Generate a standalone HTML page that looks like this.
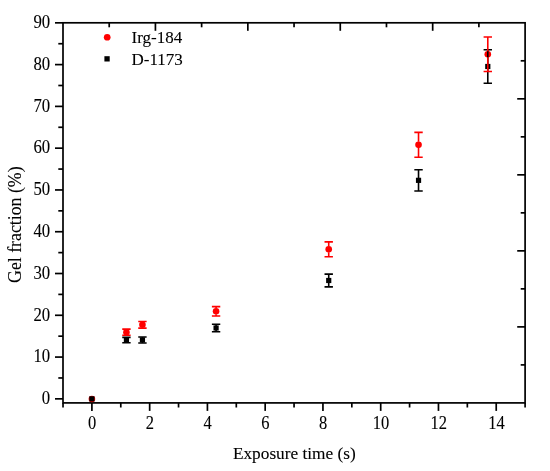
<!DOCTYPE html>
<html><head><meta charset="utf-8"><title>Gel fraction</title>
<style>html,body{margin:0;padding:0;background:#fff}svg{display:block}text{font-family:"Liberation Serif","Times New Roman",serif;font-size:17px;fill:#000;stroke:#000;stroke-width:0.1px}</style></head><body>
<svg width="550" height="471" viewBox="0 0 550 471">
<rect width="550" height="471" fill="#fff"/>
<g stroke="#000" stroke-width="1.7" fill="none" stroke-linecap="butt">
<rect x="63.0" y="22.8" width="462.10" height="380.10"/>
<path d="M55.00 398.85H63.0"/>
<path d="M58.30 377.96H63.0"/>
<path d="M55.00 357.07H63.0"/>
<path d="M58.30 336.18H63.0"/>
<path d="M55.00 315.29H63.0"/>
<path d="M58.30 294.40H63.0"/>
<path d="M55.00 273.51H63.0"/>
<path d="M58.30 252.62H63.0"/>
<path d="M55.00 231.73H63.0"/>
<path d="M58.30 210.84H63.0"/>
<path d="M55.00 189.95H63.0"/>
<path d="M58.30 169.06H63.0"/>
<path d="M55.00 148.17H63.0"/>
<path d="M58.30 127.28H63.0"/>
<path d="M55.00 106.39H63.0"/>
<path d="M58.30 85.50H63.0"/>
<path d="M55.00 64.61H63.0"/>
<path d="M58.30 43.72H63.0"/>
<path d="M55.00 22.83H63.0"/>
<path d="M63.02 402.9V407.50"/>
<path d="M91.90 402.9V410.90"/>
<path d="M120.78 402.9V407.50"/>
<path d="M149.66 402.9V410.90"/>
<path d="M178.54 402.9V407.50"/>
<path d="M207.42 402.9V410.90"/>
<path d="M236.30 402.9V407.50"/>
<path d="M265.18 402.9V410.90"/>
<path d="M294.06 402.9V407.50"/>
<path d="M322.94 402.9V410.90"/>
<path d="M351.82 402.9V407.50"/>
<path d="M380.70 402.9V410.90"/>
<path d="M409.58 402.9V407.50"/>
<path d="M438.46 402.9V410.90"/>
<path d="M467.34 402.9V407.50"/>
<path d="M496.22 402.9V410.90"/>
<path d="M525.10 402.9V407.50"/>
<path d="M109.21 22.8V27.30"/>
<path d="M155.42 22.8V30.80"/>
<path d="M201.63 22.8V27.30"/>
<path d="M247.84 22.8V30.80"/>
<path d="M294.05 22.8V27.30"/>
<path d="M340.26 22.8V30.80"/>
<path d="M386.47 22.8V27.30"/>
<path d="M432.68 22.8V30.80"/>
<path d="M478.89 22.8V27.30"/>
<path d="M525.1 60.81H520.70"/>
<path d="M525.1 98.82H517.20"/>
<path d="M525.1 136.83H520.70"/>
<path d="M525.1 174.84H517.20"/>
<path d="M525.1 212.85H520.70"/>
<path d="M525.1 250.86H517.20"/>
<path d="M525.1 288.87H520.70"/>
<path d="M525.1 326.88H517.20"/>
<path d="M525.1 364.89H520.70"/>
</g>
<text transform="translate(50.2 404.15) scale(0.985 1.055)" text-anchor="end">0</text>
<text transform="translate(50.2 362.37) scale(0.985 1.055)" text-anchor="end">10</text>
<text transform="translate(50.2 320.59) scale(0.985 1.055)" text-anchor="end">20</text>
<text transform="translate(50.2 278.81) scale(0.985 1.055)" text-anchor="end">30</text>
<text transform="translate(50.2 237.03) scale(0.985 1.055)" text-anchor="end">40</text>
<text transform="translate(50.2 195.25) scale(0.985 1.055)" text-anchor="end">50</text>
<text transform="translate(50.2 153.47) scale(0.985 1.055)" text-anchor="end">60</text>
<text transform="translate(50.2 111.69) scale(0.985 1.055)" text-anchor="end">70</text>
<text transform="translate(50.2 69.91) scale(0.985 1.055)" text-anchor="end">80</text>
<text transform="translate(50.2 28.13) scale(0.985 1.055)" text-anchor="end">90</text>
<text transform="translate(92.20 428.5) scale(0.97 1.06)" text-anchor="middle">0</text>
<text transform="translate(149.96 428.5) scale(0.97 1.06)" text-anchor="middle">2</text>
<text transform="translate(207.72 428.5) scale(0.97 1.06)" text-anchor="middle">4</text>
<text transform="translate(265.48 428.5) scale(0.97 1.06)" text-anchor="middle">6</text>
<text transform="translate(323.24 428.5) scale(0.97 1.06)" text-anchor="middle">8</text>
<text transform="translate(381.00 428.5) scale(0.97 1.06)" text-anchor="middle">10</text>
<text transform="translate(438.76 428.5) scale(0.97 1.06)" text-anchor="middle">12</text>
<text transform="translate(496.52 428.5) scale(0.97 1.06)" text-anchor="middle">14</text>
<text x="294.35" y="458.8" text-anchor="middle" style="font-size:17.3px">Exposure time (s)</text>
<text transform="translate(21.1 224.7) rotate(-90)" text-anchor="middle" style="font-size:17.8px">Gel fraction (%)</text>
<circle cx="107.2" cy="37.25" r="3.35" fill="#f00"/>
<rect x="104.4" y="56.2" width="5.3" height="5.3" fill="#000"/>
<text transform="translate(131.5 42.8) scale(1 1.04)">Irg-184</text>
<text transform="translate(131.5 64.6) scale(1 1.04)">D-1173</text>
<g fill="#f00">
<circle cx="91.90" cy="399.06" r="3.3"/>
<circle cx="126.44" cy="332.21" r="3.3"/>
<circle cx="142.44" cy="324.82" r="3.3"/>
<circle cx="216.08" cy="311.32" r="3.3"/>
<circle cx="328.72" cy="249.28" r="3.3"/>
<circle cx="418.53" cy="144.83" r="3.3"/>
<circle cx="487.79" cy="54.25" r="3.3"/>
</g>
<g fill="#000">
<rect x="89.30" y="396.25" width="5.2" height="5.2"/>
<rect x="123.84" y="337.47" width="5.2" height="5.2"/>
<rect x="139.84" y="337.34" width="5.2" height="5.2"/>
<rect x="213.48" y="325.39" width="5.2" height="5.2"/>
<rect x="326.12" y="277.89" width="5.2" height="5.2"/>
<rect x="415.93" y="177.74" width="5.2" height="5.2"/>
<rect x="485.19" y="63.89" width="5.2" height="5.2"/>
</g>
<g stroke="#000" stroke-width="1.6" fill="none">
<path d="M122.24 337.39h8.4M122.24 342.74h8.4M126.44 337.39V342.74"/>
<path d="M138.24 336.93h8.4M138.24 342.95h8.4M142.44 336.93V342.95"/>
<path d="M211.88 324.27h8.4M211.88 331.71h8.4M216.08 324.27V331.71"/>
<path d="M324.52 274.09h8.4M324.52 286.88h8.4M328.72 274.09V286.88"/>
<path d="M414.33 169.69h8.4M414.33 190.99h8.4M418.53 169.69V190.99"/>
<path d="M483.59 49.69h8.4M483.59 83.29h8.4M487.79 49.69V83.29"/>
</g>
<g stroke="#f00" stroke-width="1.6" fill="none">
<path d="M122.24 329.16h8.4M122.24 335.26h8.4M126.44 329.16V329.21M126.44 335.21V335.26"/>
<path d="M138.24 321.52h8.4M138.24 328.12h8.4M142.44 321.52V321.82M142.44 327.82V328.12"/>
<path d="M211.88 306.64h8.4M211.88 316.00h8.4M216.08 306.64V308.32M216.08 314.32V316.00"/>
<path d="M324.52 241.84h8.4M324.52 256.71h8.4M328.72 241.84V246.28M328.72 252.28V256.71"/>
<path d="M414.33 132.38h8.4M414.33 157.28h8.4M418.53 132.38V141.83M418.53 147.83V157.28"/>
<path d="M483.59 36.99h8.4M483.59 71.50h8.4M487.79 36.99V51.25M487.79 57.25V71.50"/>
</g>
</svg></body></html>
